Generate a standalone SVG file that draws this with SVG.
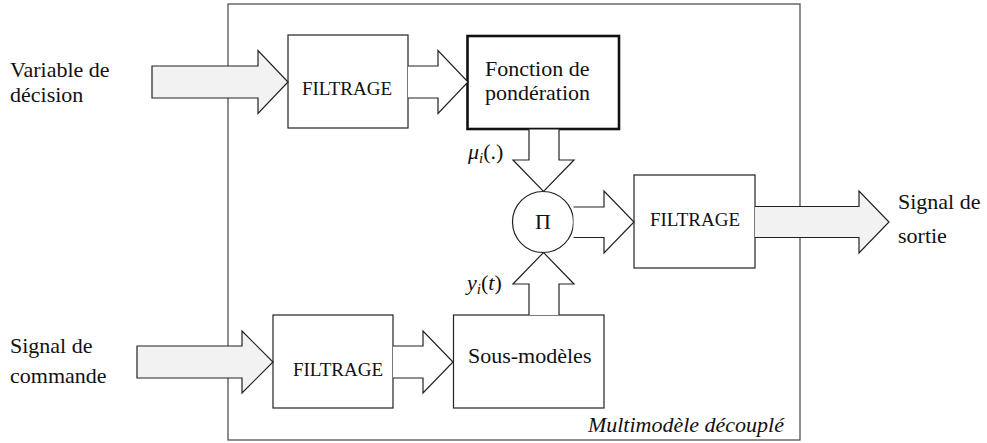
<svg xmlns="http://www.w3.org/2000/svg" width="987" height="443" viewBox="0 0 987 443" font-family="Liberation Serif, Times New Roman, DejaVu Serif, serif">
<style>
text{font-family:'Liberation Serif','Times New Roman','DejaVu Serif',serif;fill:#111;font-size:22px}
.box{fill:#fff;stroke:#222;stroke-width:1.2}
.thick{fill:#fff;stroke:#111;stroke-width:2.6}
.fat{fill:#f2f2f2;stroke:#222;stroke-width:1.2;stroke-linejoin:miter}
.arr{fill:#fff;stroke:#222;stroke-width:1.2;stroke-linejoin:miter}
.flt{font-size:19px}
.it{font-style:italic}
</style>
<rect width="987" height="443" fill="#fff"/>
<g id="frame">
<rect x="228" y="4" width="572" height="436" fill="none" stroke="#444" stroke-width="1.2"/>
<text x="784" y="432" text-anchor="end" class="it">Multimodèle découplé</text>
</g>
<g id="filtrage-top"><rect class="box" x="288" y="35" width="120" height="93"/><text class="flt" x="347" y="94.5" text-anchor="middle">FILTRAGE</text></g>
<g id="fonction"><rect class="thick" x="467.5" y="36" width="151.5" height="93"/><text x="485" y="75.5" font-size="21.5">Fonction de</text><text x="485" y="99.5" font-size="21.5">pondération</text></g>
<g id="produit"><circle cx="543" cy="222" r="30.5" fill="#fff" stroke="#222" stroke-width="1.2"/><text x="543" y="229" text-anchor="middle" font-size="23">Π</text></g>
<g id="filtrage-right"><rect class="box" x="634" y="175" width="121" height="93"/><text class="flt" x="695" y="226" text-anchor="middle">FILTRAGE</text></g>
<g id="filtrage-bottom"><rect class="box" x="273" y="315" width="120" height="93"/><text class="flt" x="338" y="376" text-anchor="middle">FILTRAGE</text></g>
<g id="sous-modeles"><rect class="box" x="453.5" y="315" width="150.5" height="93"/><text x="468" y="363">Sous-modèles</text></g>
<g id="labels">
<text x="10" y="77">Variable de</text><text x="10" y="102">décision</text>
<text x="10" y="353">Signal de</text><text x="10" y="383">commande</text>
<text x="898" y="209">Signal de</text><text x="898" y="243">sortie</text>
</g>
<g id="connectors">
<path class="fat" d="M152,66 H258 V50.5 L288,82 L258,113.5 V98 H152 Z"/>
<path class="arr" d="M408,66 H438 V50.5 L468,82 L438,113.5 V98 H408"/>
<path class="fat" d="M137,346 H242 V331 L273,362 L242,393 V378 H137 Z"/>
<path class="arr" d="M393,346 H423 V331 L453,362 L423,393 V378 H393"/>
<path class="arr" d="M529,129.5 V160 H513 L543.5,191.5 L574,160 H559 V129.5"/>
<path class="arr" d="M529,315 V284 H513 L543.5,252.5 L574,284 H559 V315"/>
<path class="arr" d="M573.5,207 H604 V191 L634,222 L604,253 V237.5 H573.5"/>
<path class="fat" d="M755,206.5 H859 V191 L889,222 L859,253 V237.5 H755"/>
<text x="468" y="159" font-size="21"><tspan class="it">μ</tspan><tspan class="it" font-size="15" dy="4">i</tspan><tspan dy="-4">(.)</tspan></text>
<text x="467" y="290" font-size="21"><tspan class="it">y</tspan><tspan class="it" font-size="15" dy="4">i</tspan><tspan dy="-4">(</tspan><tspan class="it">t</tspan><tspan>)</tspan></text>
</g>
</svg>
